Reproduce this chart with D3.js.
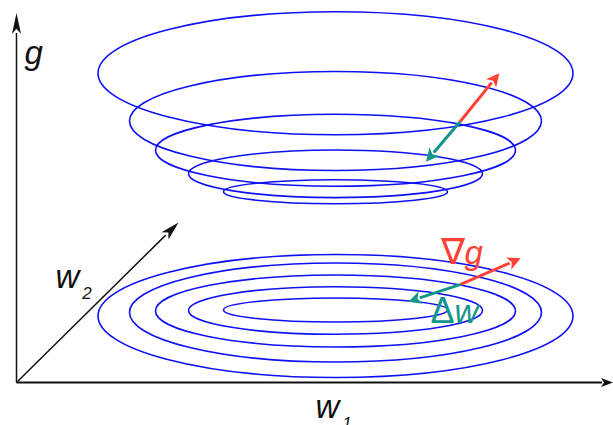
<!DOCTYPE html>
<html lang="en">
<head>
  <meta charset="UTF-8">
  <title>Gradient descent contours</title>
  <style>
    body{margin: 0; background: #fff;}
    text{font-family: "Liberation Sans", Arial, sans-serif; font-style: italic;}
  </style>
</head>
<body>
  <div id="chart"></div>
  <script src="https://d3js.org/d3.v7.min.js"></script>
  <script>
  // DATA (diagram units, origin at the corner of the axes)
  const centerW1 = 319;
  const radiusW1 = [237.5, 206, 180, 147, 112];      // semi-axis along w1
  const radiusW2 = [61.5, 49.5, 36, 23.8, 12];       // semi-axis along w2 (projected)
  const surfaceG = [309.2, 261.5, 232.2, 208.7, 190.8]; // lifted level sets
  const floorG = [66.5, 70, 71.5, 72, 72.5];          // projected contours

  // arrows: [start, gradient tip, step tip]
  const topArrow = {from: [443.5, 260.8], grad: [482.8, 309.2], step: [409.5, 220.8]};
  const floorArrow = {from: [444.2, 98.2], grad: [504.2, 124.2], step: [391.8, 80.8]};

  const axisEnds = {g: [0, 369.5], w1: [596.5, 0], w2: [162, 160]};
  const labels = [
    {text: "g", at: [8, 319], cls: "c-axis"},
    {text: "w", sub: "2", at: [39, 94.2], cls: "c-axis"},
    {text: "w", sub: "1", at: [299, -35.8], cls: "c-axis"},
    {text: "\u2207g", at: [424, 118.5], cls: "c-grad"},
    {text: "\u0394w", at: [414, 59.2], cls: "c-step"}
  ];

  // CONSTANTS
  const width = 613;
  const height = 425;
  const cblue = "#1010f4";
  const cred = "#ff4136";
  const cteal = "#13968a";
  const cblack = "#111";

  const x = d3.scaleLinear().domain([0, 600]).range([16.5, 616.5]);
  const y = d3.scaleLinear().domain([0, 370]).range([382.5, 12.5]);
  const sx = d => x(d) - x(0);
  const sy = d => y(0) - y(d);

  const svg = d3.select("#chart").append("svg")
    .attr("width", width)
    .attr("height", height);

  // ARROW HELPER
  function arrow(p0, p1, color, lw, headLen, headHalf) {
    const x0 = x(p0[0]), y0 = y(p0[1]), x1 = x(p1[0]), y1 = y(p1[1]);
    const len = Math.hypot(x1 - x0, y1 - y0);
    const ux = (x1 - x0) / len, uy = (y1 - y0) / len;
    const bx = x1 - ux * headLen, by = y1 - uy * headLen;
    svg.append("line")
      .attr("x1", x0).attr("y1", y0)
      .attr("x2", bx + ux).attr("y2", by + uy)
      .attr("stroke", color)
      .attr("stroke-width", lw);
    svg.append("path")
      .attr("d", `M${x1},${y1}L${bx - uy * headHalf},${by + ux * headHalf}L${bx + ux * headLen * 0.25},${by + uy * headLen * 0.25}L${bx + uy * headHalf},${by - ux * headHalf}Z`)
      .attr("fill", color);
  }

  // AXES
  arrow([0, 0], axisEnds.g, cblack, 1.5, 21, 4.5);
  arrow([0, 0], axisEnds.w1, cblack, 2, 12, 4.5);
  arrow([0, 0], axisEnds.w2, cblack, 1.5, 19, 5);

  // CONTOURS
  const levels = radiusW1.map((r, i) => ({rx: r, ry: radiusW2[i], top: surfaceG[i], floor: floorG[i]}));
  ["top", "floor"].forEach(k => {
    svg.append("g")
      .selectAll("ellipse")
      .data(levels)
      .join("ellipse")
      .attr("cx", x(centerW1))
      .attr("cy", d => y(d[k]))
      .attr("rx", d => sx(d.rx))
      .attr("ry", d => sy(d.ry))
      .attr("fill", "none")
      .attr("stroke", cblue)
      .attr("stroke-width", 1.6);
  });

  // GRADIENT / STEP ARROWS
  [topArrow, floorArrow].forEach(a => {
    arrow(a.from, a.grad, cred, 3, 13, 6.5);
    arrow(a.from, a.step, cteal, 3, 13, 6.5);
  });

  // LABELS
  const colorOf = {"c-axis": cblack, "c-grad": cred, "c-step": cteal};
  labels.forEach(l => {
    const t = svg.append("text")
      .attr("x", x(l.at[0]))
      .attr("y", y(l.at[1]))
      .attr("fill", colorOf[l.cls])
      .attr("font-size", 33);
    if (l.cls === "c-axis") {
      t.append("tspan").text(l.text);
      if (l.sub) t.append("tspan").attr("dy", 11).attr("dx", 3).attr("font-size", 17).text(l.sub);
    } else {
      t.append("tspan").attr("font-style", "normal").attr("font-size", 36).text(l.text[0]);
      t.append("tspan").text(l.text.slice(1));
    }
  });
  </script>
</body>
</html>
